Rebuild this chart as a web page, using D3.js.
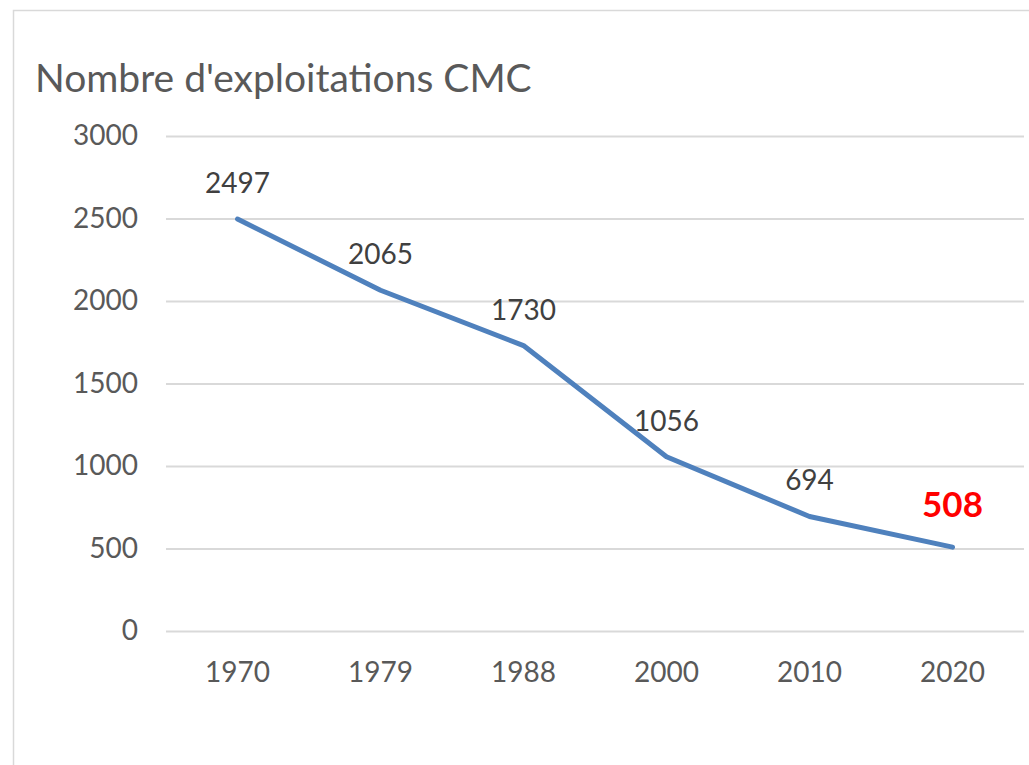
<!DOCTYPE html>
<html>
<head>
<meta charset="utf-8">
<script src="https://cdn.jsdelivr.net/npm/d3@7"></script>
<style>
  html, body { margin: 0; padding: 0; background: #fff; }
  svg text { font-family: Lato, "Open Sans", sans-serif; fill: #595959; }
</style>
</head>
<body>
<div id="chart"></div>
<script>
const years = ['1970', '1979', '1988', '2000', '2010', '2020'];
const counts = [2497, 2065, 1730, 1056, 694, 508];
const yTicks = [0, 500, 1000, 1500, 2000, 2500, 3000];
const title = "Nombre d'exploitations CMC";

const W = 1029, H = 765;
const margin = { top: 136, right: 5, bottom: 134, left: 166 };
const width = W - margin.left - margin.right;
const height = H - margin.top - margin.bottom;

const svg = d3.select('#chart').append('svg')
  .attr('width', W)
  .attr('height', H);

// chart frame
svg.append('rect')
  .attr('x', 13.5).attr('y', 10.5)
  .attr('width', W + 20).attr('height', H + 20)
  .attr('fill', 'none')
  .attr('stroke', '#d9d9d9')
  .attr('stroke-width', 1.5);

svg.append('text')
  .attr('x', 35).attr('y', 92)
  .style('font-size', '39px')
  .text(title);

const g = svg.append('g').attr('transform', `translate(${margin.left},${margin.top})`);

const x = d3.scaleBand().domain(years).range([0, width]).padding(0);
const y = d3.scaleLinear().domain([0, 3000]).range([height, 0]);

// gridlines + y labels
const yAxis = g.append('g')
  .call(d3.axisLeft(y).tickValues(yTicks).tickFormat(d3.format('d')).tickSize(-width).tickPadding(28));
yAxis.select('.domain').remove();
yAxis.selectAll('.tick line').attr('stroke', '#d9d9d9').attr('stroke-width', 2);
yAxis.selectAll('.tick text')
  .attr('fill', '#595959')
  .style('font-size', '28px')
  .style('font-family', 'Lato, "Open Sans", sans-serif');

const xAxis = g.append('g')
  .attr('transform', `translate(0,${height})`)
  .call(d3.axisBottom(x).tickSize(0).tickPadding(31));
xAxis.select('.domain').remove();
xAxis.selectAll('.tick text')
  .attr('fill', '#595959')
  .style('font-size', '28px')
  .style('font-family', 'Lato, "Open Sans", sans-serif');

const cx = d => x(d) + x.bandwidth() / 2;
const points = years.map((yr, i) => ({ yr, v: counts[i] }));

g.append('path')
  .datum(points)
  .attr('fill', 'none')
  .attr('stroke', '#4f81bd')
  .attr('stroke-width', 5)
  .attr('stroke-linecap', 'round')
  .attr('stroke-linejoin', 'round')
  .attr('d', d3.line().x(d => cx(d.yr)).y(d => y(d.v)));

const last = points.length - 1;
g.selectAll('.lbl')
  .data(points)
  .enter().append('text')
    .attr('class', 'lbl')
    .attr('text-anchor', 'middle')
    .attr('x', d => cx(d.yr))
    .attr('y', (d, i) => y(d.v) - (i === last ? 30 : 26))
    .style('font-size', (d, i) => i === last ? '35px' : '28px')
    .style('font-weight', (d, i) => i === last ? 'bold' : 'normal')
    .style('fill', (d, i) => i === last ? '#ff0000' : '#404040')
    .text(d => d.v);
</script>
</body>
</html>
